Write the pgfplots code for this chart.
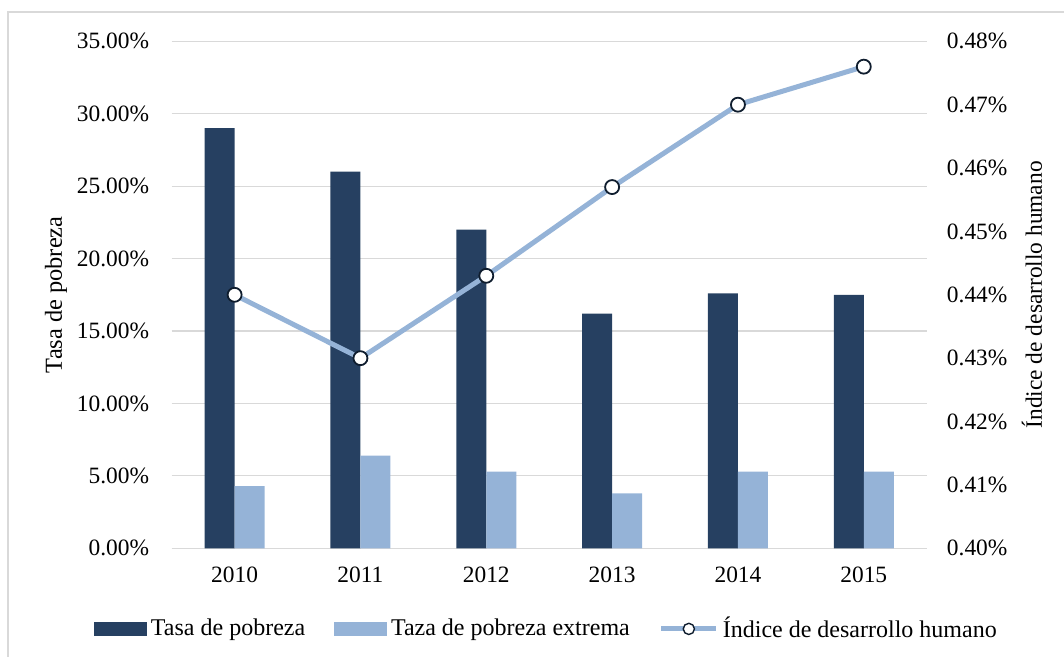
\documentclass[border=0pt]{standalone}
\usepackage{pgfplots}
\pgfplotsset{compat=1.18}
\usepackage{fontspec}
\setmainfont{Liberation Serif}
\definecolor{navybar}{HTML}{264061}
\definecolor{lightbar}{HTML}{95B3D7}
\definecolor{gridgray}{HTML}{D9D9D9}
\definecolor{markedge}{HTML}{0F1D2E}
\begin{document}
\begin{tikzpicture}[font=\fontsize{11.7}{14}\selectfont]
\useasboundingbox (-85.85pt,-54.35pt) rectangle (446.15pt,274.15pt);
\draw[gridgray, line width=0.6pt] (-81.85pt,-70pt) -- (-81.85pt,268.15pt) -- (470pt,268.15pt);
\pgfplotsset{
  every axis/.append style={
    width=377.5pt, height=253.5pt, scale only axis,
    xmin=-0.5, xmax=5.5,
    /pgf/number format/assume math mode=true,
    tick style={draw=none}, major tick length=0pt,
  },
}
\begin{axis}[
  ybar, bar width=15pt, ybar=0pt,
  ymin=0, ymax=35, ytick={0,5,...,35},
  xtick={0,1,2,3,4,5},
  xticklabels={2010,2011,2012,2013,2014,2015},
  axis x line*=bottom, axis y line*=left,
  x axis line style={draw=gridgray, line width=0.6pt, -},
  y axis line style={draw=none},
  ymajorgrids, major grid style={gridgray, line width=0.6pt},
  yticklabel={\pgfmathprintnumber[fixed,fixed zerofill,precision=2]{\tick}\%},
  yticklabel style={xshift=-7.8pt},
  xticklabel style={yshift=-5.6pt},
  scaled y ticks=false,
  every axis y label/.style={at={(axis description cs:-0.1532,0.5)}, anchor=center, rotate=90, font=\fontsize{12.2}{14}\selectfont},
  ylabel={Tasa de pobreza},
]
\addplot[draw=none, fill=navybar] coordinates {(0,29.0) (1,26.0) (2,22.0) (3,16.2) (4,17.6) (5,17.5)};
\addplot[draw=none, fill=lightbar] coordinates {(0,4.3) (1,6.4) (2,5.3) (3,3.8) (4,5.3) (5,5.3)};
\end{axis}
\begin{axis}[
  ymin=0.40, ymax=0.48, ytick={0.40,0.41,...,0.48},
  axis x line=none, axis y line*=right,
  y axis line style={draw=none},
  yticklabel={\pgfmathprintnumber[fixed,fixed zerofill,precision=2]{\tick}\%},
  yticklabel style={xshift=6.6pt},
  scaled y ticks=false,
  every axis y label/.style={at={(axis description cs:1.1395,0.5)}, anchor=center, rotate=90},
  ylabel={Índice de desarrollo humano},
  legend columns=3,
  legend cell align=left,
  legend style={at={(axis description cs:0.4977,-0.159)}, anchor=center, draw=none, fill=none,
    font=\fontsize{12}{14}\selectfont,
    /tikz/every even column/.append style={column sep=12.5pt}},
]
\addlegendimage{legend image code/.code={\fill[navybar] (0pt,-3.25pt) rectangle (26pt,3.25pt);}}
\addlegendentry{Tasa de pobreza}
\addlegendimage{legend image code/.code={\fill[lightbar] (0pt,-3.25pt) rectangle (26pt,3.25pt);}}
\addlegendentry{Taza de pobreza extrema}
\addplot[color=lightbar, line width=2.5pt, mark=*, mark size=3.5pt,
  mark options={fill=white, draw=markedge, line width=0.9pt},
  legend image code/.code={\draw[lightbar, line width=2.5pt] (0pt,0pt) -- (27.5pt,0pt);
    \draw[markedge, fill=white, line width=0.7pt] (13.75pt,0pt) circle (2.8pt);}]
  coordinates {(0,0.440) (1,0.430) (2,0.443) (3,0.457) (4,0.470) (5,0.476)};
\addlegendentry{Índice de desarrollo humano}
\end{axis}
\end{tikzpicture}
\end{document}
